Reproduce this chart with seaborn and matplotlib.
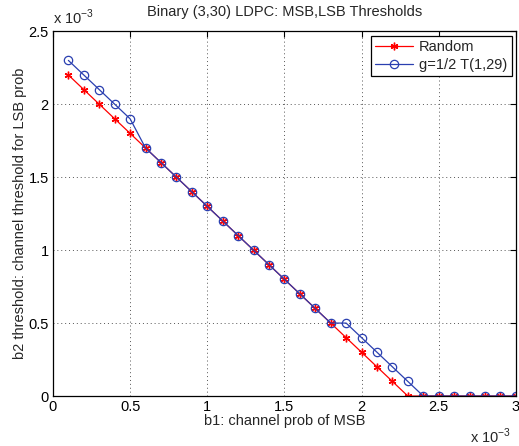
import numpy as np
import pandas as pd
import matplotlib
matplotlib.use("Agg")
import matplotlib.pyplot as plt
import seaborn as sns

# values in units of 1e-3
b1 = [0.1, 0.2, 0.3, 0.4, 0.5, 0.6, 0.7, 0.8, 0.9, 1.0,
      1.1, 1.2, 1.3, 1.4, 1.5, 1.6, 1.7, 1.8, 1.9, 2.0,
      2.1, 2.2, 2.3, 2.4, 2.5, 2.6, 2.7, 2.8, 2.9, 3.0]
random_vals = [2.2, 2.1, 2.0, 1.9, 1.8, 1.7, 1.6, 1.5, 1.4, 1.3,
               1.2, 1.1, 1.0, 0.9, 0.8, 0.7, 0.6, 0.5, 0.4, 0.3,
               0.2, 0.1, 0.0, 0.0, 0.0, 0.0, 0.0, 0.0, 0.0, 0.0]
g_vals = [2.3, 2.2, 2.1, 2.0, 1.9, 1.7, 1.6, 1.5, 1.4, 1.3,
          1.2, 1.1, 1.0, 0.9, 0.8, 0.7, 0.6, 0.5, 0.5, 0.4,
          0.3, 0.2, 0.1, 0.0, 0.0, 0.0, 0.0, 0.0, 0.0, 0.0]
series_names = ["Random", "g=1/2 T(1,29)"]
xticks = [0, 0.5, 1, 1.5, 2, 2.5, 3]
yticks = [0, 0.5, 1, 1.5, 2, 2.5]
xtick_labels = ["0", "0.5", "1", "1.5", "2", "2.5", "3"]
ytick_labels = ["0", "0.5", "1", "1.5", "2", "2.5"]

sns.set_theme(style="white")
plt.rcParams['font.family'] = ['Liberation Sans', 'DejaVu Sans']
plt.rcParams['mathtext.fontset'] = 'custom'
plt.rcParams['mathtext.rm'] = 'Liberation Sans'

fs = 10.5
fig = plt.figure(figsize=(5.19, 4.46), dpi=100)
ax = fig.add_axes([0.102, 0.112, 0.892, 0.818])

df_r = pd.DataFrame({"x": b1, "y": random_vals})
df_g = pd.DataFrame({"x": b1, "y": g_vals})

sns.lineplot(data=df_r, x="x", y="y", ax=ax, color="#ff0000", lw=0.9,
             marker=(6, 2, 0), markersize=5.5, markeredgewidth=1.0,
             markeredgecolor="#ff0000", label=series_names[0])
sns.lineplot(data=df_g, x="x", y="y", ax=ax, color="#2a3fb0", lw=0.9,
             marker="o", markersize=6, markerfacecolor="none",
             markeredgewidth=0.9, markeredgecolor="#2a3fb0",
             label=series_names[1])

ax.set_xlim(0, 3)
ax.set_ylim(0, 2.5)
ax.set_xticks(xticks)
ax.set_xticklabels(xtick_labels, fontsize=fs)
ax.set_yticks(yticks)
ax.set_yticklabels(ytick_labels, fontsize=fs)
ax.tick_params(direction="in", length=4, width=0.8, colors="black",
               top=True, right=True, pad=3)
for s in ax.spines.values():
    s.set_visible(True)
    s.set_color("black")
    s.set_linewidth(0.9)
ax.grid(True, linestyle=(0, (1, 3)), color="#555555", linewidth=0.7)

ax.set_xlabel("b1: channel prob of MSB", fontsize=fs, labelpad=0)
ax.set_ylabel("b2 threshold: channel threshold for LSB prob", fontsize=fs, labelpad=1)
ax.set_title("Binary (3,30) LDPC: MSB,LSB Thresholds", fontsize=fs, pad=11)

ax.text(0.0, 1.012, r"x 10$^{-3}$", transform=ax.transAxes, fontsize=fs,
        ha="left", va="bottom")
ax.text(0.99, -0.083, r"x 10$^{-3}$", transform=ax.transAxes, fontsize=fs,
        ha="right", va="top")

leg = ax.legend(loc="upper right", fontsize=fs, frameon=True, fancybox=False,
                edgecolor="black", framealpha=1, borderpad=0.3,
                handlelength=2.6, handletextpad=0.4, labelspacing=0.25,
                borderaxespad=0.3)
leg.get_frame().set_linewidth(0.9)

fig.savefig("out.png", dpi=100)
